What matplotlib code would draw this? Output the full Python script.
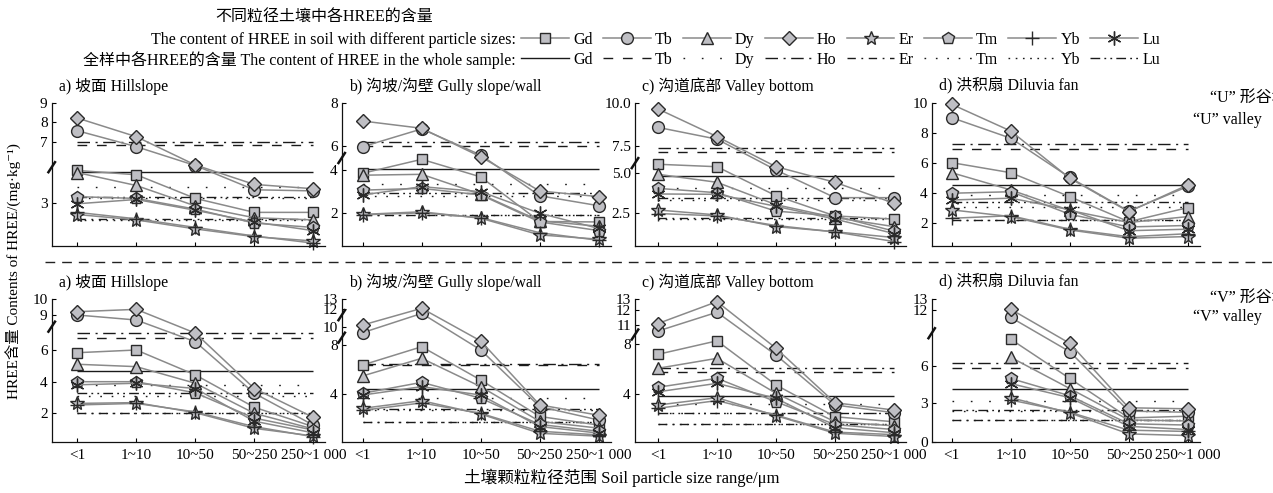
import numpy as np
import matplotlib
matplotlib.use('Agg')
import matplotlib.pyplot as plt
from matplotlib.lines import Line2D

plt.rcParams['font.family'] = ['Liberation Serif', 'Noto Sans CJK SC', 'DejaVu Serif']
plt.rcParams['lines.scale_dashes'] = False
plt.rcParams['axes.unicode_minus'] = False

W, H, DPI = 1273, 493, 100

# ---------------- data ----------------
sizes = ["<1", "1~10", "10~50", "50~250", "250~1 000"]
elements = ["Gd", "Tb", "Dy", "Ho", "Er", "Tm", "Yb", "Lu"]
titles = ["a) 坡面 Hillslope", "b) 沟坡/沟壁 Gully slope/wall",
          "c) 沟道底部 Valley bottom", "d) 洪积扇 Diluvia fan"]
nan = np.nan

# "U" valley, rows in element order Gd, Tb, Dy, Ho, Er, Tm, Yb, Lu
U_hillslope = [
    [4.50, 4.30, 3.20, 2.55, 2.55],
    [7.55, 6.55, 4.85, 3.60, 3.55],
    [4.40, 3.80, 2.85, 2.30, 2.20],
    [8.20, 7.25, 4.90, 3.85, 3.65],
    [2.45, 2.20, 1.78, 1.42, 1.22],
    [3.28, 3.20, 2.70, 2.05, 1.85],
    [2.55, 2.25, 1.85, 1.45, 1.12],
    [2.95, 3.15, 2.65, 2.10, 1.70]]
U_gully = [
    [3.85, 4.89, 3.68, 1.62, 1.60],
    [5.94, 6.80, 5.25, 2.81, 2.35],
    [3.76, 3.80, 2.88, 1.65, 1.40],
    [7.17, 6.83, 5.10, 3.03, 2.77],
    [1.95, 2.07, 1.77, 1.00, 0.80],
    [3.07, 3.15, 2.85, 1.60, 1.20],
    [1.93, 2.02, 1.80, 1.10, 0.75],
    [2.85, 3.23, 3.00, 2.00, 1.30]]
U_valley = [
    [5.79, 5.56, 3.56, 2.30, 2.10],
    [8.59, 7.90, 5.25, 3.44, 3.44],
    [4.90, 4.40, 3.00, 2.20, 1.63],
    [9.67, 8.05, 5.56, 4.40, 3.09],
    [2.67, 2.36, 1.63, 1.31, 0.95],
    [4.02, 3.75, 2.60, 2.30, 1.35],
    [2.45, 2.30, 1.70, 1.30, 0.70],
    [3.67, 3.65, 2.90, 2.10, 1.20]]
U_fan = [
    [6.04, 5.37, 3.77, 2.10, 3.04],
    [9.04, 7.67, 5.05, 2.80, 4.45],
    [5.37, 4.22, 2.85, 2.05, 2.44],
    [9.93, 8.15, 5.00, 2.77, 4.55],
    [2.89, 2.44, 1.55, 1.00, 1.11],
    [4.00, 4.10, 2.60, 1.75, 1.85],
    [2.33, 2.50, 1.60, 1.10, 1.30],
    [3.55, 3.67, 2.90, 1.50, 1.60]]

# "V" valley
V_hillslope = [
    [5.83, 6.00, 4.43, 2.35, 1.10],
    [9.00, 8.57, 6.71, 3.25, 1.20],
    [5.10, 4.95, 3.90, 1.96, 0.95],
    [9.21, 9.36, 7.45, 3.56, 1.70],
    [2.60, 2.65, 2.00, 0.99, 0.50],
    [4.00, 4.00, 3.28, 1.65, 0.88],
    [2.50, 2.60, 2.05, 1.10, 0.45],
    [3.80, 3.90, 3.56, 1.45, 0.70]]
V_gully = [
    [6.38, 7.86, 5.16, 2.20, 1.50],
    [9.35, 11.50, 7.60, 3.00, 1.91],
    [5.49, 6.92, 4.62, 1.80, 1.25],
    [10.19, 12.07, 8.44, 3.14, 2.30],
    [2.86, 3.48, 2.40, 0.83, 0.60],
    [4.08, 4.97, 3.68, 1.55, 1.00],
    [2.70, 3.30, 2.45, 1.00, 0.70],
    [3.94, 4.62, 3.94, 1.38, 0.85]]
V_valley = [
    [7.18, 8.50, 4.74, 2.22, 1.82],
    [10.05, 11.85, 7.12, 3.15, 2.54],
    [6.07, 6.86, 4.08, 1.82, 1.50],
    [11.10, 12.78, 7.66, 3.33, 2.75],
    [3.15, 3.73, 2.30, 0.91, 0.65],
    [4.56, 5.27, 3.41, 1.60, 1.20],
    [2.89, 3.50, 2.35, 1.00, 0.80],
    [4.20, 4.87, 3.68, 1.35, 0.95]]
V_fan = [
    [nan, 8.85, 4.98, 1.86, 1.99],
    [nan, 11.20, 7.51, 2.39, 2.30],
    [nan, 6.90, 4.18, 1.70, 1.62],
    [nan, 12.07, 8.41, 2.65, 2.57],
    [nan, 3.45, 2.25, 0.61, 0.48],
    [nan, 4.98, 3.60, 1.40, 1.30],
    [nan, 3.26, 2.30, 0.90, 0.80],
    [nan, 4.57, 3.45, 1.20, 0.95]]

# whole-sample contents (Gd, Tb, Dy, Ho, Er, Tm, Yb, Lu)
U_hillslope_whole = [4.44, 6.70, 3.74, 7.00, 2.24, 3.20, 2.20, 3.28]
U_gully_whole = [4.06, 6.00, 3.34, 6.20, 1.92, 2.81, 1.90, 2.92]
U_valley_whole = [4.81, 6.91, 4.02, 7.34, 2.15, 3.30, 2.12, 3.44]
U_fan_whole = [4.55, 6.93, 3.89, 7.28, 2.22, 3.10, 2.20, 3.44]
V_hillslope_whole = [4.65, 7.00, 3.79, 7.43, 2.00, 3.06, 1.98, 3.28]
V_gully_whole = [4.43, 6.38, 3.68, 6.43, 1.78, 2.70, 1.76, 2.78]
V_valley_whole = [3.86, 5.80, 3.23, 6.07, 1.64, 2.50, 1.62, 2.54]
V_fan_whole = [4.16, 5.79, 3.21, 6.26, 1.70, 2.40, 1.68, 2.47]

# y tick labels per panel
U_ticks = [[3, 7, 8, 9], [2, 4, 6, 8], [2.5, 5.0, 7.5, 10.0], [2, 4, 6, 8, 10]]
U_ticklabels = [["3", "7", "8", "9"], ["2", "4", "6", "8"],
                ["2.5", "5.0", "7.5", "10.0"], ["2", "4", "6", "8", "10"]]
V_ticks = [[2, 4, 6, 9, 10], [4, 8, 10, 12, 13], [4, 8, 11, 12, 13], [0, 3, 6, 12, 13]]
V_ticklabels = [["2", "4", "6", "9", "10"], ["4", "8", "10", "12", "13"],
                ["4", "8", "11", "12", "13"], ["0", "3", "6", "12", "13"]]

# ---------------- styles / layout ----------------
markers = ['s', 'o', '^', 'D', '*', 'p', '+', (6, 2, 0)]
msizes = [7.5, 8.5, 8.5, 7.5, 10.5, 9, 10, 10]
whole_styles = ['-', (0, (7, 7)), (0, (1.2, 12)), (0, (9, 4, 1.5, 4)),
                (0, (6, 4, 1.3, 4)), (0, (1.2, 7)), (0, (1.2, 4)),
                (0, (7, 3, 1.3, 3, 1.3, 3))]
LINE_C = '#8a8a8a'
FILL_C = '#bfbfc4'
EDGE_C = '#2a2a2a'
HL_C = '#1a1a1a'
FS = 11.5

# broken-axis scale anchors (value, pixel row in the figure)
U_scale = [
    ([1.0, 3, 4.6, 7, 8, 9], [245.7, 202.7, 168.3, 141.7, 121.7, 103.3]),
    ([0.5, 2, 4, 6, 8], [245.7, 213.3, 170.0, 146.0, 103.3]),
    ([0.44, 2.5, 5, 7.5, 10], [245.7, 212.7, 172.7, 146.0, 103.3]),
    ([0.5, 10], [245.7, 103.3])]
V_scale = [
    ([0.13, 2, 4, 6, 9, 10], [441.7, 412.7, 381.7, 350.0, 315.0, 299.3]),
    ([0.15, 4, 8, 10, 12, 13], [441.7, 394.3, 345.0, 326.7, 309.0, 299.3]),
    ([0.24, 4, 8, 11, 12, 13], [441.7, 394.3, 344.0, 325.0, 310.0, 299.3]),
    ([0.0, 3, 6, 12, 13], [441.7, 403.3, 365.7, 310.0, 299.3])]
U_breaks = [[4.7], [5.0], [5.9], []]
V_breaks = [[8.0], [11.3, 8.8], [9.5], [9.5]]

col_spine = [51.7, 341.7, 635.0, 931.7]
col_xleft = [-0.434, -0.356, -0.39, -0.34]
XRIGHT = 4.2
STEP = 59.0
row_top = [103.3, 299.3]
row_bot = [245.7, 441.7]


def make_scale(vals, pix):
    v = np.asarray(vals, float)
    t = -np.asarray(pix, float)
    s0 = (t[1] - t[0]) / (v[1] - v[0])
    s1 = (t[-1] - t[-2]) / (v[-1] - v[-2])

    def fwd(x):
        x = np.asarray(x, float)
        y = np.interp(x, v, t)
        y = np.where(x < v[0], t[0] + (x - v[0]) * s0, y)
        y = np.where(x > v[-1], t[-1] + (x - v[-1]) * s1, y)
        return y

    def inv(y):
        y = np.asarray(y, float)
        x = np.interp(y, t, v)
        x = np.where(y < t[0], v[0] + (y - t[0]) / s0, x)
        x = np.where(y > t[-1], v[-1] + (y - t[-1]) / s1, x)
        return x
    return fwd, inv


def fx(px):
    return px / W


def fy(py):
    return 1 - py / H


fig = plt.figure(figsize=(W / DPI, H / DPI), dpi=DPI)

rows = [
    ([U_hillslope, U_gully, U_valley, U_fan],
     [U_hillslope_whole, U_gully_whole, U_valley_whole, U_fan_whole],
     U_ticks, U_ticklabels, U_scale, U_breaks),
    ([V_hillslope, V_gully, V_valley, V_fan],
     [V_hillslope_whole, V_gully_whole, V_valley_whole, V_fan_whole],
     V_ticks, V_ticklabels, V_scale, V_breaks)]

xs = np.arange(len(sizes))
for r, (datas, wholes, ticks, tlabels, scales, breaks) in enumerate(rows):
    for c in range(4):
        wpx = (XRIGHT - col_xleft[c]) * STEP
        ax = fig.add_axes([fx(col_spine[c]), fy(row_bot[r]), wpx / W,
                           (row_bot[r] - row_top[r]) / H])
        vals, pix = scales[c]
        fwd, inv = make_scale(vals, pix)
        ax.set_yscale('function', functions=(fwd, inv))
        ax.set_ylim(vals[0], vals[-1])
        ax.set_xlim(col_xleft[c], XRIGHT)
        for s in ['top', 'right']:
            ax.spines[s].set_visible(False)
        for s in ['left', 'bottom']:
            ax.spines[s].set_linewidth(0.9)
            ax.spines[s].set_color('#111111')
        # whole-sample reference lines
        for k in range(len(elements)):
            ax.hlines(wholes[c][k], xs[0], xs[-1], colors=HL_C,
                      linestyles=[whole_styles[k]], linewidth=1.0, zorder=1.5)
        # particle-size series
        for k in range(len(elements)):
            ax.plot(xs, datas[c][k], color=LINE_C, lw=1.1,
                    marker=markers[k], ms=msizes[k], mfc=FILL_C, mec=EDGE_C,
                    mew=1.0, zorder=2 + k * 0.01, clip_on=False)
        ax.set_yticks(ticks[c])
        ax.set_yticklabels(tlabels[c])
        ax.yaxis.set_minor_locator(matplotlib.ticker.NullLocator())
        ax.tick_params(axis='y', direction='in', length=3, width=0.8,
                       labelsize=11, pad=3)
        ax.set_xticks(xs)
        if r == 1:
            ax.set_xticklabels(sizes)
        else:
            ax.set_xticklabels([])
        ax.tick_params(axis='x', direction='in', length=3, width=0.8,
                       labelsize=11, pad=5)
        # axis-break marks
        for bv in breaks[c]:
            t0 = float(fwd(bv))
            lo, hi = float(inv(t0 - 5)), float(inv(t0 + 5))
            ax.plot([-0.012, 0.012], [lo, hi], transform=ax.get_yaxis_transform(),
                    color='#111111', lw=1.8, clip_on=False, zorder=5)
        # panel title
        fig.text(fx(col_spine[c] + 7), fy(row_top[r] - 17), titles[c],
                 fontsize=11.3, ha='left', va='center')

# right-hand labels
fig.text(fx(1210), fy(98), "“U” 形谷地", fontsize=FS, ha='left', va='center')
fig.text(fx(1193), fy(120), "“U” valley", fontsize=FS, ha='left', va='center')
fig.text(fx(1210), fy(298), "“V” 形谷地", fontsize=FS, ha='left', va='center')
fig.text(fx(1193), fy(317), "“V” valley", fontsize=FS, ha='left', va='center')

# separator
fig.add_artist(Line2D([fx(45), 1.0], [fy(262), fy(262)], transform=fig.transFigure,
                      color='#222222', lw=1.0, ls=(0, (7, 5))))

# axis labels
fig.text(fx(14), fy(271), "HREE含量 Contents of HREE/(mg·kg⁻¹)", rotation=90,
         fontsize=11, ha='center', va='center')
fig.text(fx(622), fy(478), "土壤颗粒粒径范围 Soil particle size range/μm",
         fontsize=12, ha='center', va='center')

# legends
fig.text(fx(324), fy(18), "不同粒径土壤中各HREE的含量", fontsize=FS,
         ha='center', va='center')
fig.text(fx(516), fy(40), "The content of HREE in soil with different particle sizes:",
         fontsize=FS, ha='right', va='center')
fig.text(fx(516), fy(60), "全样中各HREE的含量 The content of HREE in the whole sample:",
         fontsize=FS, ha='right', va='center')

h1 = [Line2D([], [], color=LINE_C, lw=1.1, marker=markers[k], ms=msizes[k],
             mfc=FILL_C, mec=EDGE_C, mew=1.0) for k in range(len(elements))]
h2 = [Line2D([], [], color=HL_C, lw=1.0, ls=whole_styles[k]) for k in range(len(elements))]
for hs, yy in [(h1, 40), (h2, 60)]:
    fig.legend(hs, elements, loc='center left', bbox_to_anchor=(fx(521), fy(yy)),
               ncol=8, frameon=False, fontsize=FS, handlelength=3.0,
               handletextpad=0.25, columnspacing=0.65, borderpad=0,
               borderaxespad=0, numpoints=1)

fig.savefig('out.png', dpi=DPI)
